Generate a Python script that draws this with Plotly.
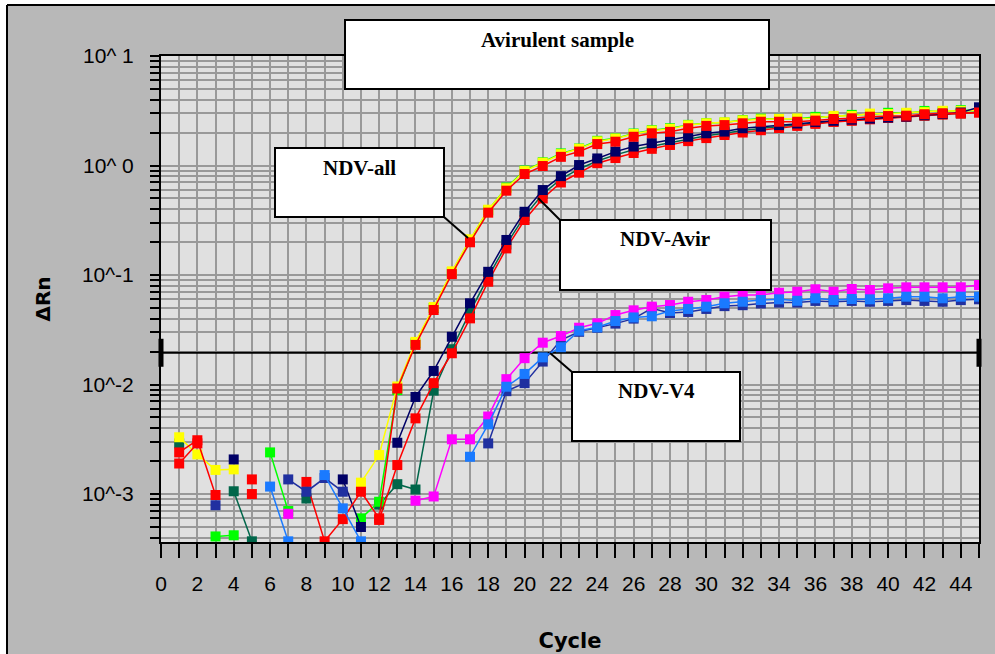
import plotly.graph_objects as go

# ---------------- data ----------------
cycles = list(range(1, 46))

# NDV-all replicates
ndv_all_red = [0.0024, 0.0031, 0.00098, None, 0.00136, None, None, 0.00129, 0.00037, 0.00059,
               0.00105, 0.0006, 0.0092, 0.0230, 0.0479, 0.102, 0.199, 0.371, 0.589, 0.836,
               0.989, 1.20, 1.34, 1.57, 1.65, 1.83, 1.97, 2.03, 2.19, 2.30,
               2.34, 2.43, 2.51, 2.51, 2.51, 2.57, 2.66, 2.70, 2.79, 2.83,
               2.85, 2.94, 3.00, 3.00, 3.05]
ndv_all_yellow = [0.0033, 0.0023, 0.00166, 0.00168, None, None, None, None, None, None,
                  0.00127, 0.00227, 0.0096, 0.0245, 0.051, 0.108, 0.212, 0.395, 0.62, 0.89,
                  1.06, 1.27, 1.42, 1.66, 1.76, 1.94, 2.08, 2.16, 2.33, 2.43,
                  2.48, 2.58, 2.64, 2.66, 2.69, 2.70, 2.84, 2.83, 2.98, 2.95,
                  3.03, 3.07, 3.16, 3.15, 3.20]
ndv_all_green = [None, None, 0.00041, 0.00042, None, 0.0024, 0.0007, None, None, None,
                 0.0006, 0.00085, 0.0089, 0.0238, 0.050, 0.106, 0.208, 0.39, 0.63, 0.90,
                 1.07, 1.29, 1.43, 1.68, 1.77, 1.96, 2.10, 2.19, 2.35, 2.44,
                 2.47, 2.60, 2.68, 2.67, 2.67, 2.78, 2.79, 2.90, 2.93, 3.03,
                 3.00, 3.15, 3.12, 3.20, 3.18]

# NDV-Avir replicates
ndv_avir_navy = [None, None, None, 0.00207, None, None, None, None, None, 0.00136,
                 0.0005, None, 0.00294, 0.0077, 0.0133, 0.0273, 0.0552, 0.107, 0.209, 0.378,
                 0.597, 0.80, 1.01, 1.16, 1.34, 1.49, 1.60, 1.71, 1.83, 1.97,
                 2.04, 2.19, 2.26, 2.34, 2.42, 2.50, 2.56, 2.62, 2.68, 2.74,
                 2.80, 2.88, 2.96, 3.05, 3.40]
ndv_avir_red = [0.0019, 0.0029, None, None, 0.0010, None, None, None, None, None,
                None, 0.00058, 0.00184, 0.00491, 0.0103, 0.0193, 0.0402, 0.0869, 0.175, 0.318,
                0.50, 0.70, 0.86, 1.05, 1.17, 1.30, 1.42, 1.54, 1.67, 1.78,
                1.90, 2.00, 2.10, 2.20, 2.30, 2.40, 2.50, 2.56, 2.64, 2.72,
                2.78, 2.85, 2.92, 2.98, 3.05]
ndv_avir_teal = [0.0029, None, None, 0.00106, 0.00037, None, None, 0.00091, None, None,
                 None, 0.0008, 0.00123, 0.0011, 0.0088, 0.021, 0.046, 0.096, 0.19, 0.345,
                 0.55, 0.75, 0.93, 1.10, 1.25, 1.39, 1.50, 1.62, 1.75, 1.87,
                 1.97, 2.09, 2.18, 2.27, 2.36, 2.45, 2.52, 2.59, 2.66, 2.73,
                 2.79, 2.86, 2.94, 3.00, 3.10]

# NDV-V4 replicates
ndv_v4_magenta = [None, None, None, None, None, None, 0.00066, None, None, None,
                  None, None, None, 0.00087, 0.00095, 0.00316, 0.00316, 0.0051, 0.0112, 0.0174,
                  0.0241, 0.0277, 0.0330, 0.0362, 0.0431, 0.0476, 0.0514, 0.0532, 0.0570, 0.0591,
                  0.0634, 0.0657, 0.0657, 0.0689, 0.0704, 0.0741, 0.0704, 0.0745, 0.0730, 0.0756,
                  0.0772, 0.0772, 0.0772, 0.0772, 0.0810]
ndv_v4_lightblue = [None, None, None, None, None, 0.00117, 0.00037, None, 0.00149, 0.00074,
                    0.00037, None, None, None, None, None, 0.00219, 0.00433, 0.00955, 0.0125,
                    0.0177, 0.0219, 0.031, 0.0333, 0.038, 0.041, 0.042, 0.047, 0.049, 0.0514,
                    0.0552, 0.0570, 0.0591, 0.060, 0.0582, 0.0613, 0.0591, 0.0604, 0.0600, 0.0613,
                    0.0634, 0.0634, 0.0613, 0.0634, 0.0634]
ndv_v4_royal = [None, None, 0.00079, None, None, None, 0.00136, 0.00105, 0.0014, 0.00105,
                None, None, None, None, None, None, None, 0.0029, 0.0087, 0.0103,
                0.0162, 0.0255, 0.0303, 0.033, 0.036, 0.040, 0.0497, 0.045, 0.046, 0.049,
                0.052, 0.053, 0.055, 0.056, 0.056, 0.058, 0.057, 0.058, 0.057, 0.058,
                0.059, 0.058, 0.057, 0.059, 0.060]

threshold = [0.0195]
x_limits = [0, 45]
y_decades = [1, 0, -1, -2, -3]
y_decade_labels = ["10^ 1", "10^ 0", "10^-1", "10^-2", "10^-3"]
x_label_cycles = list(range(0, 46))

title_text = "Avirulent sample"
box_labels = ["NDV-all", "NDV-Avir", "NDV-V4"]

# ---------------- layout geometry (pixels) ----------------
W, H = 995, 654
L, R, T, B = 161, 979, 56, 542


def px(x):
    return (x - L) / (R - L)


def py(y):
    return (B - y) / (B - T)


fig = go.Figure()

# threshold line
fig.add_trace(go.Scatter(
    x=x_limits, y=threshold * 2, mode="lines+markers",
    line=dict(color="black", width=2),
    marker=dict(symbol="line-ns", size=20, line=dict(color="black", width=5)),
    cliponaxis=False, showlegend=False, hoverinfo="skip"))

series = [
    (ndv_avir_teal, "#00664a"),
    (ndv_all_green, "#00ff00"),
    (ndv_all_yellow, "#ffff00"),
    (ndv_avir_red, "#ff0000"),
    (ndv_avir_navy, "#000066"),
    (ndv_all_red, "#ff0000"),
    (ndv_v4_royal, "#2030a0"),
    (ndv_v4_magenta, "#ff00ff"),
    (ndv_v4_lightblue, "#1a7aff"),
]
for vals, col in series:
    fig.add_trace(go.Scatter(
        x=cycles, y=vals, mode="lines+markers",
        line=dict(color=col, width=1.5),
        marker=dict(symbol="square", size=10, color=col, line=dict(width=0)),
        connectgaps=False, showlegend=False))

# y ticks: decades labelled, all minor positions as ticks + gridlines
ytickvals, yticktext = [], []
for d, lab in zip(y_decades, y_decade_labels):
    ytickvals.append(10 ** d)
    yticktext.append(lab)
for d in range(-4, 1):
    for m in range(2, 10):
        v = m * 10 ** d
        if 10 ** -3.44 <= v <= 10:
            ytickvals.append(v)
            yticktext.append("")

xtickvals = x_label_cycles
xticktext = [str(c) if (c % 2 == 0 and c <= 44) else "" for c in x_label_cycles]

fig.update_xaxes(
    range=x_limits, tickmode="array", tickvals=xtickvals, ticktext=xticktext,
    showgrid=True, gridcolor="#999999", gridwidth=2,
    showline=True, linecolor="black", linewidth=2, mirror=True,
    ticks="outside", ticklen=14, tickwidth=2, tickcolor="black",
    tickfont=dict(family="Liberation Sans", size=21, color="black"),
    ticklabelstandoff=8, automargin=False,
    title=dict(text="<b>Cycle</b>", font=dict(family="DejaVu Sans", size=21, color="black"),
               standoff=39),
    zeroline=False)
fig.update_yaxes(
    type="log", range=[-3.438, 1], tickmode="array", tickvals=ytickvals, ticktext=yticktext,
    showgrid=True, gridcolor="#999999", gridwidth=2,
    showline=True, linecolor="black", linewidth=2, mirror=True,
    ticks="outside", ticklen=9, tickwidth=2, tickcolor="black",
    tickfont=dict(family="Liberation Sans", size=21, color="black"),
    ticklabelstandoff=12, automargin=False,
    title=dict(text="<b>ΔRn</b>", font=dict(family="DejaVu Sans", size=20, color="black"),
               standoff=26),
    zeroline=False)

shapes = []
# outer white strips and black frame
shapes.append(dict(type="rect", xref="paper", yref="paper", x0=px(-5), x1=px(7), y0=py(-5), y1=py(H + 5),
                   fillcolor="white", line=dict(width=0), layer="above"))
shapes.append(dict(type="rect", xref="paper", yref="paper", x0=px(-5), x1=px(W + 5), y0=py(-5), y1=py(5),
                   fillcolor="white", line=dict(width=0), layer="above"))
shapes.append(dict(type="line", xref="paper", yref="paper", x0=px(7), x1=px(7), y0=py(5), y1=py(H + 5),
                   line=dict(color="black", width=2)))
shapes.append(dict(type="line", xref="paper", yref="paper", x0=px(7), x1=px(W + 5), y0=py(5), y1=py(5),
                   line=dict(color="black", width=2)))

# label boxes (pixel rectangles) and leader lines
boxes = [(345, 20, 769, 89), (275, 148, 444, 217), (560, 220, 771, 290), (572, 372, 740, 441)]
for x0, y0, x1, y1 in boxes:
    shapes.append(dict(type="rect", xref="paper", yref="paper",
                       x0=px(x0), x1=px(x1), y0=py(y1), y1=py(y0),
                       fillcolor="white", line=dict(color="black", width=2), layer="above"))
leaders = [(444, 217, 468, 238), (560, 220, 538, 198), (572, 372, 550, 353)]
for x0, y0, x1, y1 in leaders:
    shapes.append(dict(type="line", xref="paper", yref="paper",
                       x0=px(x0), x1=px(x1), y0=py(y0), y1=py(y1),
                       line=dict(color="black", width=2), layer="above"))

annotations = []
texts = [(title_text, 557, 40), (box_labels[0], 359, 168), (box_labels[1], 665, 239), (box_labels[2], 656, 391)]
for t, x, y in texts:
    annotations.append(dict(text="<b>" + t + "</b>", xref="paper", yref="paper", x=px(x), y=py(y),
                            xanchor="center", yanchor="middle", showarrow=False,
                            font=dict(family="Liberation Serif", size=21, color="black")))

fig.update_layout(
    width=W, height=H,
    margin=dict(l=L, r=W - R, t=T, b=H - B, pad=0, autoexpand=False),
    paper_bgcolor="#b8b8b8", plot_bgcolor="#e0e0e0",
    shapes=shapes, annotations=annotations,
    showlegend=False)

fig.write_html("out.html")
